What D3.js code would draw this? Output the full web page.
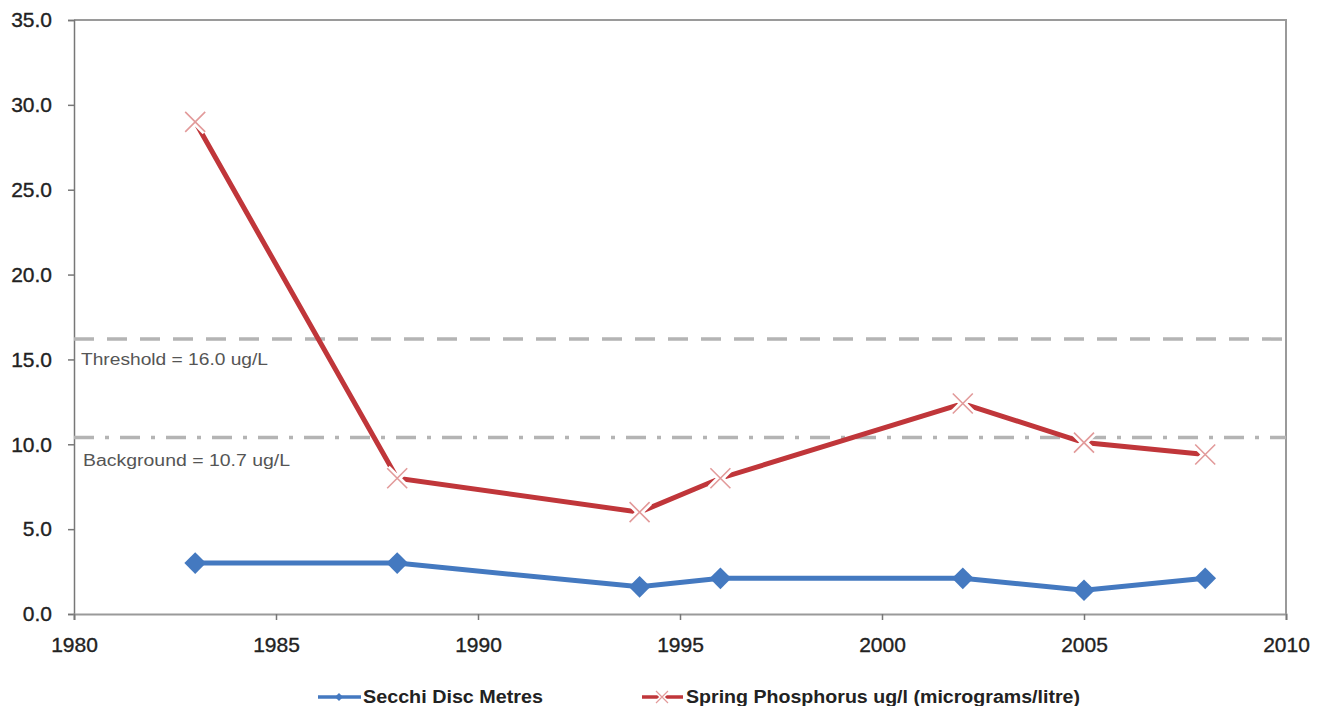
<!DOCTYPE html>
<html>
<head>
<meta charset="utf-8">
<script src="https://cdn.jsdelivr.net/npm/d3@7"></script>
<style>
  body { margin: 0; background: #fff; }
  svg { display: block; font-family: "Liberation Sans", Arial, sans-serif; }
</style>
</head>
<body>
<svg></svg>
<script>
// data
const years = [1983, 1988, 1994, 1996, 2002, 2005, 2008];
const secchi = [3.0, 3.0, 1.6, 2.1, 2.1, 1.4, 2.1];
const phosphorus = [29.0, 8.0, 6.0, 8.0, 12.4, 10.1, 9.4];
const xTicks = [1980, 1985, 1990, 1995, 2000, 2005, 2010];
const yTicks = [0, 5, 10, 15, 20, 25, 30, 35];
const thresholdLevel = 16.2;
const backgroundLevel = 10.4;
const seriesNames = ['Secchi Disc Metres', 'Spring Phosphorus ug/l (micrograms/litre)'];

const WIDTH = 1326, HEIGHT = 706;
const M = {left: 74, right: 40, top: 20, bottom: 92};
const FONT = '"Liberation Sans", Arial, sans-serif';

const svg = d3.select('svg').attr('width', WIDTH).attr('height', HEIGHT);

const x = d3.scaleLinear().domain([1980, 2010]).range([M.left, WIDTH - M.right]);
const y = d3.scaleLinear().domain([0, 35]).range([HEIGHT - M.bottom, M.top]);

// plot border (top + right)
svg.append('path')
  .attr('d', `M${x(1980)},${y(35)}H${x(2010)}V${y(0)}`)
  .attr('fill', 'none').attr('stroke', '#9a9a9a').attr('stroke-width', 2);

// y axis
const yAxis = svg.append('g')
  .attr('transform', `translate(${M.left},0)`)
  .call(d3.axisLeft(y).tickValues(yTicks).tickFormat(d3.format('.1f')).tickSize(6).tickPadding(16));
yAxis.select('.domain').attr('stroke', '#777').attr('stroke-width', 1.5);
yAxis.selectAll('.tick line').attr('stroke', '#777').attr('stroke-width', 1.5);
yAxis.selectAll('text').attr('font-size', 21).attr('fill', '#222')
  .attr('stroke', '#222').attr('stroke-width', 0.35)
  .attr('font-family', FONT);

// x axis
const xAxis = svg.append('g')
  .attr('transform', `translate(0,${y(0)})`)
  .call(d3.axisBottom(x).tickValues(xTicks).tickFormat(d3.format('d')).tickSize(6).tickPadding(17));
xAxis.select('.domain').attr('stroke', '#9a9a9a').attr('stroke-width', 2);
xAxis.selectAll('.tick line').attr('stroke', '#777').attr('stroke-width', 1.5);
xAxis.selectAll('text').attr('font-size', 21).attr('fill', '#222')
  .attr('stroke', '#222').attr('stroke-width', 0.35)
  .attr('font-family', FONT);

// reference lines
svg.append('line')
  .attr('x1', x(1980)).attr('x2', x(2010))
  .attr('y1', y(thresholdLevel)).attr('y2', y(thresholdLevel))
  .attr('stroke', '#b4b4b4').attr('stroke-width', 3.5).attr('stroke-dasharray', '20 13');
svg.append('line')
  .attr('x1', x(1980)).attr('x2', x(2010))
  .attr('y1', y(backgroundLevel)).attr('y2', y(backgroundLevel))
  .attr('stroke', '#b4b4b4').attr('stroke-width', 3.5).attr('stroke-dasharray', '20 11 4 11');

svg.append('text')
  .attr('x', 81).attr('y', 365)
  .attr('font-size', 16).attr('fill', '#555')
  .attr('textLength', 187).attr('lengthAdjust', 'spacingAndGlyphs')
  .text('Threshold = 16.0 ug/L');
svg.append('text')
  .attr('x', 83).attr('y', 466)
  .attr('font-size', 16).attr('fill', '#555')
  .attr('textLength', 207).attr('lengthAdjust', 'spacingAndGlyphs')
  .text('Background = 10.7 ug/L');

const line = d3.line().x(d => x(d[0])).y(d => y(d[1]));

// phosphorus line
const pData = years.map((yr, i) => [yr, phosphorus[i]]);
svg.append('path')
  .datum(pData)
  .attr('d', line)
  .attr('fill', 'none').attr('stroke', '#c0363a').attr('stroke-width', 5);

const xMark = 10;
const xPath = `M${-xMark},${-xMark}L${xMark},${xMark}M${-xMark},${xMark}L${xMark},${-xMark}`;
const pMarks = svg.append('g').selectAll('g')
  .data(pData).enter().append('g')
  .attr('transform', d => `translate(${x(d[0])},${y(d[1])})`);
pMarks.append('path').attr('d', xPath).attr('stroke', '#fff').attr('stroke-width', 7);
pMarks.append('path').attr('d', xPath).attr('stroke', '#e29a9a').attr('stroke-width', 1.6);

// secchi line
const sData = years.map((yr, i) => [yr, secchi[i]]);
svg.append('path')
  .datum(sData)
  .attr('d', line)
  .attr('fill', 'none').attr('stroke', '#4479c0').attr('stroke-width', 5);

svg.append('g').selectAll('path')
  .data(sData).enter().append('path')
  .attr('d', d3.symbol(d3.symbolDiamond2, 300))
  .attr('transform', d => `translate(${x(d[0])},${y(d[1])})`)
  .attr('fill', '#4479c0');

// legend
const legend = svg.append('g');
const lg1 = legend.append('g').attr('transform', 'translate(318,697)');
lg1.append('line').attr('x1', 0).attr('x2', 43).attr('stroke', '#4479c0').attr('stroke-width', 3.5);
lg1.append('path').attr('d', d3.symbol(d3.symbolDiamond2, 40)).attr('transform', 'translate(21,0)').attr('fill', '#4479c0');
lg1.append('text').attr('x', 45).attr('y', 6).attr('font-size', 18).attr('font-weight', 'bold').attr('fill', '#222')
  .attr('textLength', 180).attr('lengthAdjust', 'spacingAndGlyphs')
  .text(seriesNames[0]);

const lg2 = legend.append('g').attr('transform', 'translate(642,697)');
lg2.append('line').attr('x1', 0).attr('x2', 41).attr('stroke', '#c0363a').attr('stroke-width', 3.5);
lg2.append('path').attr('d', 'M-6,-6L6,6M-6,6L6,-6').attr('transform', 'translate(20,0)')
  .attr('stroke', '#fff').attr('stroke-width', 4);
lg2.append('path').attr('d', 'M-6,-6L6,6M-6,6L6,-6').attr('transform', 'translate(20,0)')
  .attr('stroke', '#e29a9a').attr('stroke-width', 1.2);
lg2.append('text').attr('x', 44).attr('y', 6).attr('font-size', 18).attr('font-weight', 'bold').attr('fill', '#222')
  .attr('textLength', 394).attr('lengthAdjust', 'spacingAndGlyphs')
  .text(seriesNames[1]);
</script>
</body>
</html>
